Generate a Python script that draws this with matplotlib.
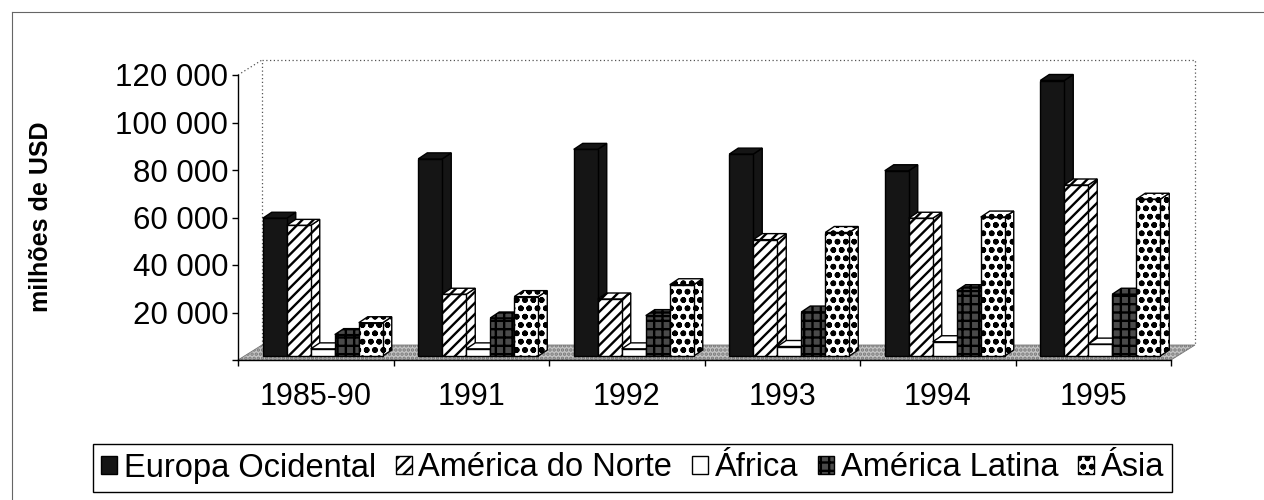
import matplotlib
matplotlib.use('Agg')
import matplotlib.pyplot as plt
from matplotlib.patches import Polygon
from matplotlib.lines import Line2D

plt.rcParams['font.family'] = ['Liberation Sans', 'DejaVu Sans']
plt.rcParams['hatch.linewidth'] = 1.7

categories = ['1985-90', '1991', '1992', '1993', '1994', '1995']
series_names = ['Europa Ocidental', 'América do Norte', 'África', 'América Latina', 'Ásia']
europa = [58000, 83000, 87000, 85000, 78000, 116000]
am_norte = [55000, 26000, 24000, 49000, 58000, 72000]
africa = [3000, 3000, 3000, 4000, 6000, 5000]
am_latina = [9000, 16000, 17000, 18500, 27500, 26000]
asia = [14000, 25000, 30000, 52000, 58500, 66000]
yticks = [0, 20000, 40000, 60000, 80000, 100000, 120000]
ytick_labels = ['', '20 000', '40 000', '60 000', '80 000', '100 000', '120 000']
ylabel = 'milhões de USD'

series = [europa, am_norte, africa, am_latina, asia]
styles = [
    dict(facecolor='#151515', hatch=None),
    dict(facecolor='white', hatch='///'),
    dict(facecolor='white', hatch=None),
    dict(facecolor='#4a4a4a', hatch='++'),
    dict(facecolor='white', hatch='oo'),
]

W, H = 1264, 500
fig = plt.figure(figsize=(W / 100, H / 100), dpi=100)
fig.patch.set_facecolor('white')
ax_l, ax_r, ax_t, ax_b = 238, 1171, 75, 360
ax = fig.add_axes([ax_l / W, 1 - ax_b / H, (ax_r - ax_l) / W, (ax_b - ax_t) / H])
n = len(categories)
ymax = 120000
ax.set_xlim(0, n)
ax.set_ylim(0, ymax)
ax.patch.set_alpha(0)

px_x = n / (ax_r - ax_l)
px_y = ymax / (ax_b - ax_t)

# wall / floor depth
WX, WY = 24 * px_x, 15 * px_y
# bar front offset and bar depth
BX0, BY0 = 7 * px_x, 4 * px_y
BDX, BDY = 9 * px_x, 6 * px_y
w = 24 * px_x

# floor
floor = Polygon([(0, 0), (n, 0), (n + WX, WY), (WX, WY)], closed=True,
                facecolor='#c4c4c4', edgecolor='#777777', hatch='....',
                linewidth=0.6, zorder=1, clip_on=False)
ax.add_patch(floor)
# back wall (dotted)
ax.plot([WX, WX, n + WX, n + WX], [WY, ymax + WY, ymax + WY, WY],
        ls=(0, (1, 2)), color='#555555', lw=0.9, zorder=1, clip_on=False)
ax.plot([0, WX], [ymax, ymax + WY], ls=(0, (1, 2)), color='#555555', lw=0.9,
        zorder=1, clip_on=False)

containers = []
for s, (vals, st) in enumerate(zip(series, styles)):
    xs = [i + 0.5 + BX0 + (s - 2) * w for i in range(n)]
    bc = ax.bar(xs, vals, width=w, bottom=BY0, facecolor=st['facecolor'],
                hatch=st['hatch'], edgecolor='black', linewidth=1.0,
                label=series_names[s], clip_on=False)
    containers.append(bc)
    for i, (x, v, p) in enumerate(zip(xs, vals, bc.patches)):
        z = 5 + (i * 5 + s) * 0.01
        p.set_zorder(z + 0.005)
        side = Polygon([(x + w / 2, BY0), (x + w / 2 + BDX, BY0 + BDY),
                        (x + w / 2 + BDX, BY0 + v + BDY), (x + w / 2, BY0 + v)],
                       closed=True, facecolor=st['facecolor'], hatch=st['hatch'],
                       edgecolor='black', linewidth=1.0, zorder=z, clip_on=False)
        top = Polygon([(x - w / 2, BY0 + v), (x + w / 2, BY0 + v),
                       (x + w / 2 + BDX, BY0 + v + BDY), (x - w / 2 + BDX, BY0 + v + BDY)],
                      closed=True, facecolor=st['facecolor'], hatch=st['hatch'],
                      edgecolor='black', linewidth=1.0, zorder=z, clip_on=False)
        ax.add_patch(side)
        ax.add_patch(top)

for sp in ['top', 'right']:
    ax.spines[sp].set_visible(False)
for sp in ['left', 'bottom']:
    ax.spines[sp].set_linewidth(1.0)
    ax.spines[sp].set_zorder(2)

ax.set_yticks(yticks)
ax.set_yticklabels(ytick_labels, fontsize=22.5)
ax.tick_params(axis='y', direction='out', length=4, width=1, pad=3)
ax.set_xticks(range(n + 1))
ax.set_xticklabels([''] * (n + 1))
ax.tick_params(axis='x', which='major', direction='out', length=4, width=1)
ax.set_xticks([i + 0.5 for i in range(n)], minor=True)
ax.set_xticklabels(categories, minor=True, fontsize=22)
ax.tick_params(axis='x', which='minor', length=0, pad=16)

ax.set_ylabel(ylabel, fontsize=18, fontweight='bold')
ax.yaxis.set_label_coords((53 - ax_l) / (ax_r - ax_l), (ax_b - 217) / (ax_b - ax_t))

leg = fig.legend(handles=containers, labels=series_names, loc='center',
                 bbox_to_anchor=((85 + 1180) / 2 / W, 1 - 468 / H), ncol=5,
                 fontsize=23.5, frameon=True, fancybox=False, framealpha=1,
                 edgecolor='black', handlelength=0.5, handleheight=0.5,
                 handletextpad=0.2, columnspacing=0.6, borderpad=0.25,
                 borderaxespad=0)
leg.get_frame().set_linewidth(1.0)

# outer frame of the scanned chart
fig.add_artist(Line2D([12 / W, 12 / W], [0, 1 - 12 / H], color='#666666', lw=0.8,
                      transform=fig.transFigure))
fig.add_artist(Line2D([12 / W, 1], [1 - 12 / H, 1 - 12 / H], color='#666666', lw=0.8,
                      transform=fig.transFigure))

fig.savefig('out.png', dpi=100, facecolor='white')
